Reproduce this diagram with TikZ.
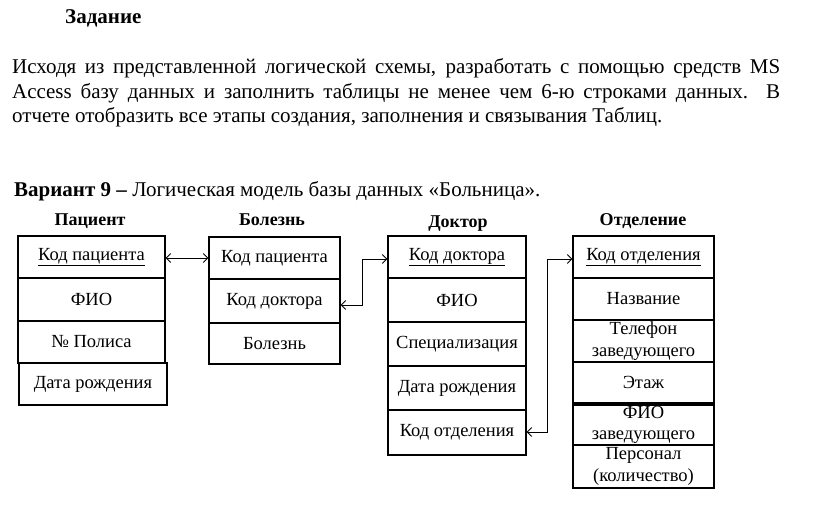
\documentclass[tikz,border=0pt]{standalone}
\usepackage{fontspec}
\setmainfont{Liberation Serif}
\usetikzlibrary{arrows.meta}
\newcommand\cellnode[6]{\node[cell, minimum width={(#4-#2)*1pt}, minimum height={(#5-#3)*1pt}] (#1) at ({(#2+#4)/2},{(#3+#5)/2}) {#6};}
\begin{document}
\begin{tikzpicture}[x=1pt,y=-1pt,
  cell/.style={draw, line width=1.1pt, inner sep=0pt, align=center, font=\fontsize{18.5}{21.5}\selectfont},
  hdr/.style={font=\fontsize{18}{21}\selectfont\bfseries, anchor=base, inner sep=0pt},
  txt/.style={font=\fontsize{21}{25}\selectfont, anchor=base west, inner sep=0pt},
  link/.style={line width=0.9pt, {Straight Barb[length=4.5pt,width=9pt]}-{Straight Barb[length=4.5pt,width=9pt]}}]
\useasboundingbox[fill=white] (0,0) rectangle (816,516);
% heading and task text
\node[txt, font=\fontsize{21}{25}\selectfont\bfseries] (title) at (65,24) {Задание};
\node[txt] (l1) at (12,74) {\makebox[768pt][s]{Исходя из представленной логической схемы, разработать с помощью средств MS}};
\node[txt] (l2) at (12,99) {\makebox[768pt][s]{Access базу данных и заполнить таблицы не менее чем 6-ю строками данных. В}};
\node[txt] (l3) at (12,123) {отчете отобразить все этапы создания, заполнения и связывания Таблиц.};
\node[txt] (var) at (14,196) {\textbf{Вариант 9 –} Логическая модель базы данных «Больница».};
% headers
\node[hdr] (hp) at (90,225) {Пациент};
\node[hdr] (hb) at (272,225) {Болезнь};
\node[hdr] (hd) at (458,227) {Доктор};
\node[hdr] (ho) at (643,225) {Отделение};
% Пациент
\cellnode{p1}{18}{236}{165}{278}{\underline{Код пациента}}
\cellnode{p2}{18}{278}{165}{321}{ФИО}
\cellnode{p3}{18}{321}{165}{363}{№ Полиса}
\cellnode{p4}{19}{363}{167}{405}{Дата рождения}
% Болезнь
\cellnode{b1}{209}{237}{340}{279}{Код пациента}
\cellnode{b2}{209}{279}{340}{323}{Код доктора}
\cellnode{b3}{209}{323}{340}{364}{Болезнь}
% Доктор
\cellnode{d1}{388}{236}{526}{278}{\underline{Код доктора}}
\cellnode{d2}{388}{278}{526}{322}{ФИО}
\cellnode{d3}{388}{322}{526}{366}{Специализация}
\cellnode{d4}{388}{366}{526}{410}{Дата рождения}
\cellnode{d5}{388}{410}{526}{455}{Код отделения}
% Отделение
\cellnode{o1}{573}{236}{714}{278}{\underline{Код отделения}}
\cellnode{o2}{573}{278}{714}{320}{Название}
\cellnode{o3}{573}{320}{714}{362}{Телефон\\заведующего}
\cellnode{o4}{573}{362}{714}{403}{Этаж}
\cellnode{o5}{573}{405}{714}{445}{ФИО\\заведующего}
\cellnode{o6}{573}{445}{714}{488}{Персонал\\(количество)}
% links
\draw[link] ([yshift=-1pt]p1.east) -- ([yshift=-1pt]p1.east -| b1.west);
\coordinate (c1) at ([xshift=22pt,yshift=-4pt]b2.east);
\draw[link] ([yshift=-4pt]b2.east) -- (c1) |- ([yshift=-2pt]d1.west);
\coordinate (c2) at ([xshift=21pt,yshift=0.5pt]d5.east);
\draw[link] ([yshift=0.5pt]d5.east) -- (c2) |- ([yshift=-2pt]o1.west);
\end{tikzpicture}
\end{document}
